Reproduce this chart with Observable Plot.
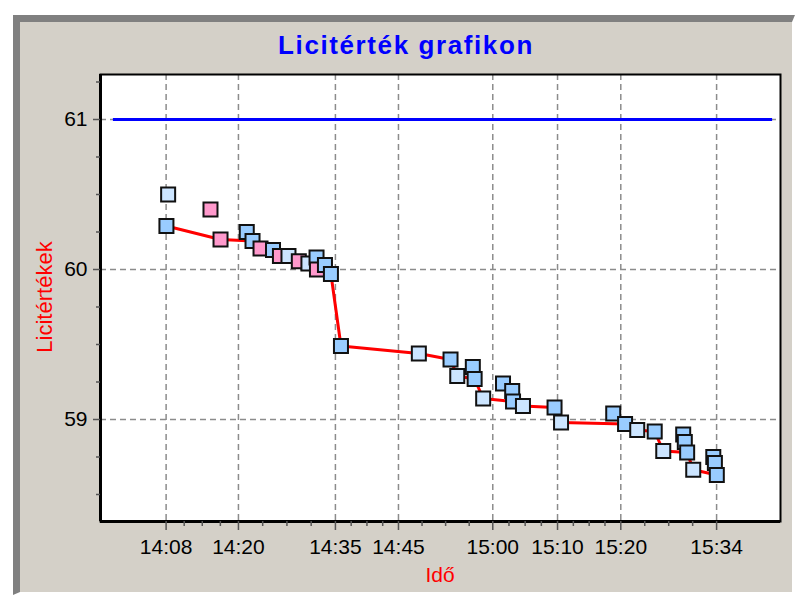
<!DOCTYPE html>
<html>
<head>
<meta charset="utf-8">
<script src="https://cdn.jsdelivr.net/npm/d3@7"></script>
<script src="https://cdn.jsdelivr.net/npm/@observablehq/plot@0.6"></script>
<style>
  html, body { margin: 0; padding: 0; background: #ffffff; }
  #wrap { position: relative; width: 800px; height: 601px; overflow: hidden; font-family: "Liberation Sans", Arial, sans-serif; }
  #panel { position: absolute; left: 13px; top: 15px; width: 772px; height: 570px; background: #d4d0c8;
           border-top: 7px solid #808080; border-left: 7px solid #808080; border-right: 3px solid #ffffff; border-bottom: 3px solid #ffffff; }
  #chart { position: absolute; left: 0; top: 0; }
  .lbl { position: absolute; white-space: nowrap; text-align: center; }
  #title { left: 106px; top: 30px; width: 600px; font-size: 26px; line-height: 30px; font-weight: bold; color: #0000ff; letter-spacing: 1.6px; }
  #ylab { left: -54.6px; top: 286px; width: 200px; font-size: 22px; line-height: 22px; color: #ff0000; transform: rotate(-90deg); transform-origin: 50% 50%; }
  #xlab { left: 340px; top: 564px; width: 200px; font-size: 21px; line-height: 21px; color: #ff0000; }
</style>
</head>
<body>
<div id="wrap">
  <div id="panel"></div>
  <div id="chart"></div>
  <div class="lbl" id="title">Licitérték grafikon</div>
  <div class="lbl" id="ylab">Licitértékek</div>
  <div class="lbl" id="xlab">Idő</div>
</div>
<script>
// ---- data ----
const bidTimes = ["14:09:02","14:09:18","14:15:55","14:17:29","14:21:35","14:22:29","14:23:44","14:25:41",
  "14:26:46","14:28:06","14:29:43","14:31:13","14:32:29","14:32:33","14:33:48","14:34:44","14:36:18",
  "14:48:28","14:53:25","14:54:28","14:56:54","14:57:11","14:58:31","15:01:37","15:03:03","15:03:11",
  "15:04:44","15:09:40","15:10:41","15:18:50","15:20:41","15:22:35","15:25:19","15:26:39","15:29:46",
  "15:30:01","15:30:23","15:31:20","15:34:28","15:34:43","15:35:01"];
const bidValues = [60.29,60.50,60.40,60.20,60.25,60.19,60.14,60.13,
  60.09,60.09,60.055,60.04,60.08,60.00,60.03,59.97,59.49,
  59.44,59.40,59.29,59.35,59.27,59.14,59.24,59.19,59.12,
  59.09,59.08,58.98,59.04,58.97,58.93,58.92,58.79,58.90,
  58.85,58.78,58.665,58.75,58.71,58.63];
const bidKinds = ["kek","vilagos","rozsa","rozsa","kek","kek","rozsa","kek",
  "rozsa","vilagos","rozsa","vilagos","kek","rozsa","kek","kek","kek",
  "vilagos","kek","vilagos","kek","kek","vilagos","kek","kek","kek",
  "vilagos","kek","vilagos","kek","kek","vilagos","kek","vilagos","kek",
  "kek","kek","vilagos","kek","kek","kek"];
const kindNames = ["kek","vilagos","rozsa"];
const kindColors = ["#99ccff","#cce5ff","#ff99cc"];

const bestTimes = ["14:09:02","14:17:29","14:22:29","14:23:44","14:25:41","14:26:46","14:29:43","14:31:13",
  "14:32:33","14:34:44","14:36:18","14:48:28","14:53:25","14:54:28","14:57:11","14:58:31","15:03:11",
  "15:04:44","15:09:40","15:10:41","15:20:41","15:22:35","15:25:19","15:26:39","15:30:23","15:31:20","15:35:01"];
const bestValues = [60.29,60.20,60.19,60.14,60.13,60.09,60.055,60.04,
  60.00,59.97,59.49,59.44,59.40,59.29,59.27,59.14,59.12,
  59.09,59.08,58.98,58.97,58.93,58.92,58.79,58.78,58.665,58.63];

const limitValue = 61;
const limitFrom = "14:00:45";
const limitTo = "15:43:44";

const xTickTimes = ["14:08:59","14:20:17","14:35:26","14:45:17","15:00:01","15:10:08","15:20:01","15:34:59"];
const xTickLabels = ["14:08","14:20","14:35","14:45","15:00","15:10","15:20","15:34"];
const yTickValues = [59, 60, 61];
const yTickLabels = ["59", "60", "61"];
const yMinorValues = [58.5, 58.75, 59.25, 59.5, 59.75, 60.25, 60.5, 60.75, 61.25];
const xDomainTimes = ["13:58:44", "15:44:58"];
const yDomainValues = [58.32, 61.3];

// ---- build tables ----
const parseT = d3.timeParse("%H:%M:%S");
const bids = bidTimes.map((t, i) => ({time: parseT(t), value: bidValues[i], kind: bidKinds[i]}));
const best = bestTimes.map((t, i) => ({time: parseT(t), value: bestValues[i]}));
const xTicks = xTickTimes.map(parseT);
const labelOf = new Map(xTicks.map((d, i) => [+d, xTickLabels[i]]));
const yLabelOf = new Map(yTickValues.map((d, i) => [d, yTickLabels[i]]));
const xMinor = [];
for (let i = 0; i + 1 < xTicks.length; i++) {
  const a = +xTicks[i], b = +xTicks[i + 1];
  for (let q = 1; q < 4; q++) xMinor.push(new Date(a + (b - a) * q / 4));
}
const xDom = xDomainTimes.map(parseT);
const limit = [{y: limitValue, x1: parseT(limitFrom), x2: parseT(limitTo)}];

const gridStyle = {stroke: "#8c8c8c", strokeWidth: 1.5, strokeDasharray: "6,4"};

const chart = Plot.plot({
  width: 800,
  height: 601,
  marginLeft: 100,
  marginRight: 20,
  marginTop: 74,
  marginBottom: 80,
  style: {background: "transparent", fontFamily: "'Liberation Sans', Arial, sans-serif", overflow: "visible"},
  x: {type: "time", domain: xDom},
  y: {domain: yDomainValues},
  color: {domain: kindNames, range: kindColors},
  marks: [
    Plot.frame({fill: "white", stroke: null}),
    Plot.ruleX(xTicks, gridStyle),
    Plot.ruleY(yTickValues, gridStyle),
    Plot.ruleY(limit, {y: "y", x1: "x1", x2: "x2", stroke: "#0000ff", strokeWidth: 3}),
    Plot.line(best, {x: "time", y: "value", stroke: "#ff0000", strokeWidth: 3}),
    Plot.dot(bids, {x: "time", y: "value", symbol: "square", r: 7.9, fill: "kind", stroke: "#111111", strokeWidth: 2}),
    Plot.frame({stroke: "#000000", strokeWidth: 2}),
    Plot.ruleX([xDom[0]], {stroke: "#000000", strokeWidth: 3}),
    Plot.ruleY([yDomainValues[0]], {stroke: "#000000", strokeWidth: 3}),
    Plot.axisX(xTicks, {tickFormat: d => labelOf.get(+d), tickSize: 9, tickPadding: 9, fontSize: 21, fill: "#000000", stroke: "#555555", strokeWidth: 1.5, label: null}),
    Plot.axisX(xMinor, {tickSize: 5, fill: "none", stroke: "#555555", strokeWidth: 1.5, label: null}),
    Plot.axisY(yTickValues, {tickFormat: d => yLabelOf.get(d), tickSize: 7, tickPadding: 6, fontSize: 21, fill: "#000000", stroke: "#555555", strokeWidth: 1.5, label: null}),
    Plot.axisY(yMinorValues, {tickSize: 4, fill: "none", stroke: "#555555", strokeWidth: 1.5, label: null})
  ]
});
document.getElementById("chart").appendChild(chart);
</script>
</body>
</html>
